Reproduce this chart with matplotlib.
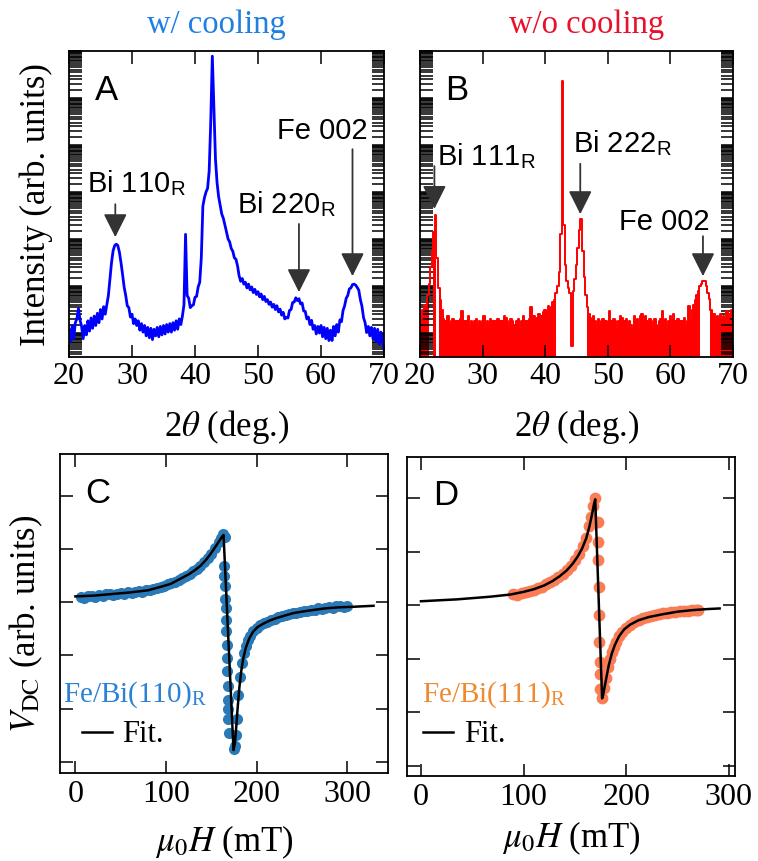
import numpy as np
import matplotlib
matplotlib.use("Agg")
import matplotlib.pyplot as plt
from matplotlib.ticker import LogLocator, NullFormatter, MultipleLocator

plt.rcParams["font.family"] = ["Liberation Serif", "DejaVu Serif"]
plt.rcParams["mathtext.fontset"] = "stix"

# ---- XRD, 2theta grid (deg.) ----
two_theta = np.arange(20.0, 70.01, 0.25)

# log10 intensity, w/ cooling (panel A), 4 samples per degree
log_int_a = [
    0.08, -0.18, 0.15, -0.12,  0.22, 0.30, 0.52, 0.28,  0.14, -0.12, 0.16, -0.04,
    0.26, 0.04, 0.32, 0.10,  0.36, 0.16, 0.42, 0.22,  0.50, 0.30, 0.56, 0.40,
    0.60, 0.80, 1.15, 1.50,  1.75, 1.86, 1.89, 1.86,  1.72, 1.50, 1.25, 0.98,
    0.80, 0.58, 0.54, 0.34,  0.40, 0.20, 0.30, 0.16,  0.26, 0.06, 0.20, 0.02,
    0.16, -0.06, 0.12, -0.10,  0.10, -0.14, 0.08, -0.06,  0.12, -0.08, 0.14, -0.04,
    0.16, -0.02, 0.18, 0.02,  0.20, 0.02, 0.22, 0.06,  0.26, 0.08, 0.30, 0.18,
    0.36, 0.60, 2.10, 0.80,  0.74, 0.54, 0.58, 0.60,  0.76, 0.78, 0.98, 1.08,
    1.60, 2.70, 2.88, 3.00,  3.08, 3.45, 4.50, 5.89,  4.80, 3.70, 3.20, 2.90,
    2.72, 2.53, 2.44, 2.30,  2.15, 2.00, 1.94, 1.80,  1.74, 1.60, 1.57, 1.43,
    1.22, 1.10, 1.16, 1.04,  1.08, 0.96, 1.04, 0.92,  0.98, 0.86, 0.93, 0.82,
    0.88, 0.77, 0.83, 0.71,  0.78, 0.67, 0.71, 0.61,  0.66, 0.55, 0.61, 0.50,
    0.58, 0.45, 0.51, 0.38,  0.44, 0.30, 0.33, 0.32,  0.48, 0.50, 0.65, 0.66,
    0.75, 0.69, 0.73, 0.62,  0.64, 0.47, 0.46, 0.30,  0.34, 0.18, 0.27, 0.08,
    0.16, -0.02, 0.14, 0.00,  0.16, -0.08, 0.12, -0.12,  0.10, -0.16, 0.06, -0.16,
    0.14, -0.06, 0.18, 0.02,  0.28, 0.24, 0.48, 0.58,  0.74, 0.80, 0.94, 0.96,
    1.03, 1.04, 1.02, 0.97,  0.91, 0.71, 0.57, 0.33,  0.22, 0.01, 0.14, -0.06,
    0.12, -0.12, 0.10, -0.18,  0.08, -0.24, 0.02, -0.16,  -0.35,
]

# log10 intensity, w/o cooling (panel B)
log_int_b = [
    0.40, 0.30, 0.48, 0.60,  0.55, 0.80, 1.05, 1.40,  1.75, 2.15, 2.52, 1.60,
    0.95, 0.70, 0.48, 0.30,  0.26, 0.09, 0.36, 0.18,  0.26, 0.30, 0.09, 0.26,
    0.18, 0.26, 0.30, 0.47,  0.26, 0.09, 0.26, 0.36,  0.09, 0.26, 0.18, 0.26,
    0.30, 0.09, 0.26, 0.18,  0.26, 0.36, 0.09, 0.26,  0.09, 0.30, 0.26, 0.09,
    0.26, 0.18, 0.30, 0.26,  0.09, 0.26, 0.36, 0.33,  0.26, 0.09, 0.30, 0.26,
    0.18, 0.09, 0.26, 0.30,  0.09, 0.26, 0.36, 0.26,  0.18, 0.26, 0.30, 0.55,
    0.26, 0.36, 0.33, 0.26,  0.40, 0.26, 0.36, 0.45,  0.50, 0.40, 0.58, 0.47,
    0.55, 0.65, 0.70, 0.85,  1.00, 1.30, 2.10, 5.36,  2.30, 1.45, 1.10, 0.95,
    0.85, -0.28, 0.90, 1.15,  1.45, 1.80, 2.20, 2.42,  1.75, 1.20, 0.80, 0.55,
    0.40, 0.33, 0.26, 0.36,  0.26, 0.09, 0.30, 0.18,  0.26, 0.30, 0.09, 0.26,
    0.18, 0.47, 0.26, 0.09,  0.30, 0.26, 0.09, 0.26,  0.36, 0.33, 0.09, 0.26,
    0.30, 0.09, 0.26, 0.18,  0.09, 0.36, 0.26, 0.30,  0.09, 0.36, 0.40, 0.26,
    0.36, 0.26, 0.09, 0.30,  0.26, 0.09, 0.30, 0.18,  0.09, 0.26, 0.30, 0.47,
    0.26, 0.30, 0.09, 0.26,  0.36, 0.18, 0.40, 0.26,  0.09, 0.30, 0.26, 0.09,
    0.26, 0.33, 0.09, 0.26,  0.58, 0.26, 0.50, 0.60,  0.70, 0.80, 0.90, 1.00,
    1.05, 1.11, 1.10, 1.00,  0.85, 0.72, 0.50, 0.37,  0.40, 0.26, 0.36, 0.26,
    0.40, 0.30, 0.36, 0.26,  0.47, 0.26, 0.40, 0.50,  0.45,
]
# 2theta ranges where the w/o-cooling trace never drops to zero counts
no_fill_b = [(21.6, 21.8), (22.7, 22.9), (41.9, 46.6), (65.0, 66.0)]

# ---- spin pumping V_DC (arb. units) vs mu0H (mT) ----
h_dots_c = [6, 10, 14, 18, 22, 26, 30, 34, 38, 42, 46, 50, 54, 58, 62, 66, 70, 74, 78, 82,
            86, 90, 94, 98, 102, 106, 110, 114, 118, 122, 126, 130, 134, 138, 142, 146,
            150, 154, 158, 161, 163, 165,
            164, 164.5, 165, 165.5, 166, 166.3, 166.6, 167, 167.3, 167.6, 168, 168.3,
            168.5, 168.8, 169,
            174.5, 176, 177, 178, 180, 182, 184, 186, 188, 190, 193, 196, 200, 204, 208,
            212, 216, 220, 224, 228, 232, 236, 240, 244, 248, 252, 256, 260, 264, 268,
            272, 276, 280, 284, 288, 292, 296, 300]
v_dots_c = [0.10, 0.08, 0.11, 0.12, 0.10, 0.13, 0.12, 0.15, 0.16, 0.13, 0.16, 0.17, 0.15,
            0.18, 0.17, 0.19, 0.20, 0.18, 0.22, 0.23, 0.24, 0.26, 0.28, 0.30, 0.33, 0.35,
            0.38, 0.42, 0.45, 0.49, 0.53, 0.58, 0.62, 0.68, 0.75, 0.83, 0.91, 1.01, 1.12,
            1.20, 1.27, 1.22,
            0.68, 0.49, 0.30, 0.05, -0.11, -0.33, -0.55, -0.80, -1.05, -1.30, -1.58,
            -1.83, -2.01, -2.20, -2.45,
            -2.76, -2.70, -2.50, -2.20, -1.75, -1.40, -1.15, -0.95, -0.82, -0.72, -0.63,
            -0.55, -0.48, -0.43, -0.40, -0.37, -0.33, -0.31, -0.29, -0.26, -0.25, -0.23,
            -0.21, -0.20, -0.18, -0.17, -0.16, -0.15, -0.14, -0.12, -0.13, -0.11, -0.10,
            -0.11, -0.08, -0.07, -0.09, -0.07]
h_fit_c = [0, 20, 40, 60, 80, 95, 105, 115, 125, 132, 138, 144, 149, 153, 157, 160, 162,
           163.5, 174.5, 176, 177.5, 179, 181, 183, 185, 188, 192, 196, 201, 207, 214,
           222, 230, 240, 250, 262, 275, 290, 305, 329]
v_fit_c = [0.106, 0.12, 0.15, 0.18, 0.22, 0.29, 0.34, 0.43, 0.52, 0.60, 0.68, 0.79, 0.90,
           1.00, 1.10, 1.18, 1.23, 1.26, -2.78, -2.65, -2.35, -2.00, -1.60, -1.30, -1.08,
           -0.86, -0.68, -0.56, -0.47, -0.41, -0.35, -0.30, -0.26, -0.21, -0.18, -0.15,
           -0.12, -0.10, -0.09, -0.07]

h_dots_d = [90, 94, 98, 102, 106, 110, 114, 118, 122, 126, 130, 134, 138, 142, 146, 150,
            154, 158, 161, 164, 166, 168, 170,
            172.3, 172.6, 172.9, 173.2, 173.5, 173.8, 174, 174.2, 174.5,
            176, 178, 180, 182, 184, 186, 188, 190, 193, 196, 200, 204, 208, 212, 216,
            220, 224, 228, 232, 236, 240, 244, 248, 252, 256, 260, 264, 268, 270]
v_dots_d = [0.21, 0.20, 0.23, 0.24, 0.27, 0.29, 0.32, 0.35, 0.39, 0.43, 0.48, 0.53, 0.59,
            0.66, 0.74, 0.84, 0.96, 1.10, 1.25, 1.48, 1.65, 1.85, 2.00,
            1.56, 1.18, 0.84, 0.34, -0.19, -0.68, -1.06, -1.28, -1.56,
            -1.74, -1.55, -1.35, -1.15, -1.00, -0.88, -0.78, -0.68, -0.58, -0.50, -0.42,
            -0.36, -0.31, -0.27, -0.24, -0.22, -0.20, -0.18, -0.17, -0.15, -0.14, -0.13,
            -0.12, -0.11, -0.10, -0.10, -0.09, -0.08, -0.08]
h_fit_d = [0, 35, 67.5, 87, 100, 110, 120, 128, 135, 142, 148, 153, 157, 161, 164, 166.5,
           168.5, 169.8, 176.5, 177.5, 179, 181, 183, 186, 189, 193, 198, 204, 212, 222,
           235, 250, 265, 280, 291]
v_fit_d = [0.075, 0.11, 0.16, 0.20, 0.25, 0.30, 0.37, 0.45, 0.54, 0.65, 0.78, 0.92, 1.06,
           1.25, 1.46, 1.68, 1.88, 1.98, -1.74, -1.68, -1.52, -1.32, -1.12, -0.90, -0.74,
           -0.58, -0.45, -0.36, -0.28, -0.22, -0.17, -0.12, -0.09, -0.07, -0.06]

W, H = 758, 862
fig = plt.figure(figsize=(W / 100, H / 100), dpi=100)


def box(l, t, r, b):
    return [l / W, 1 - b / H, (r - l) / W, (b - t) / H]


TICK = 23
LABEL = 25
SANS = "Liberation Sans"
ARROW = "#333333"


def style_axes(ax):
    for s in ax.spines.values():
        s.set_linewidth(1.3)
    ax.tick_params(which="both", direction="in", top=True, right=True, length=9,
                   width=1.1, labelsize=TICK, pad=3)
    ax.tick_params(axis="y", which="both", labelleft=False)


def xrd_axes(ax):
    ax.set_yscale("log")
    ax.set_xlim(20, 70)
    ax.set_ylim(10 ** -0.51, 10 ** 6.0)
    ax.xaxis.set_major_locator(MultipleLocator(10))
    ax.yaxis.set_major_locator(LogLocator(base=10, numticks=20))
    ax.yaxis.set_minor_locator(LogLocator(base=10, subs=np.arange(1.5, 10, 0.5), numticks=200))
    ax.yaxis.set_minor_formatter(NullFormatter())
    style_axes(ax)
    ax.set_xlabel(r"2$\theta$ (deg.)", fontsize=LABEL)
    ax.xaxis.set_label_coords(0.5, -0.163)
    ax.xaxis.label.set_va("top")


def arrow(ax, x, l_tail, l_tip):
    ax.annotate("", xy=(x, 10 ** l_tip), xytext=(x, 10 ** l_tail),
                arrowprops=dict(arrowstyle="-|>,head_length=0.9,head_width=0.45",
                                mutation_scale=16, color=ARROW, lw=1.3,
                                shrinkA=0, shrinkB=0))


def peak_label(ax, x, l, s):
    ax.text(x, 10 ** l, s, fontsize=21, family=SANS, va="baseline", ha="left")


# ---- A ----
ax_a = fig.add_axes(box(69, 52, 384, 358))
ya = 10 ** np.array(log_int_a)
ax_a.plot(two_theta, ya, color="#0000ff", lw=2.0)
xrd_axes(ax_a)
ax_a.set_ylabel("Intensity (arb. units)", fontsize=LABEL)
ax_a.yaxis.set_label_coords(-0.05, 0.5)
ax_a.text(0.083, 0.843, "A", transform=ax_a.transAxes, fontsize=25, family=SANS)
peak_label(ax_a, 22.86, 3.02, r"Bi 110$_\mathregular{R}$")
peak_label(ax_a, 46.67, 2.57, r"Bi 220$_\mathregular{R}$")
peak_label(ax_a, 53.0, 4.15, "Fe 002")
arrow(ax_a, 27.35, 2.74, 2.04)
arrow(ax_a, 56.5, 2.32, 0.87)
arrow(ax_a, 65.0, 3.91, 1.21)

# ---- B ----
ax_b = fig.add_axes(box(420, 52, 733, 358))
yb = 10 ** np.array(log_int_b)
fill_mask = np.ones(len(two_theta), dtype=bool)
for lo, hi in no_fill_b:
    fill_mask &= ~((two_theta >= lo) & (two_theta <= hi))
ax_b.fill_between(two_theta, 10 ** -0.6, yb, where=fill_mask, step="mid",
                  color="#ff0000", lw=0)
ax_b.plot(two_theta, yb, color="#ff0000", lw=1.4, drawstyle="steps-mid")
xrd_axes(ax_b)
ax_b.text(0.08, 0.842, "B", transform=ax_b.transAxes, fontsize=25, family=SANS)
peak_label(ax_b, 22.7, 3.60, r"Bi 111$_\mathregular{R}$")
peak_label(ax_b, 44.4, 3.87, r"Bi 222$_\mathregular{R}$")
peak_label(ax_b, 51.8, 2.21, "Fe 002")
arrow(ax_b, 22.3, 3.55, 2.64)
arrow(ax_b, 45.6, 3.60, 2.53)
arrow(ax_b, 65.2, 2.06, 1.21)

fig.text(216 / W, 1 - 33 / H, "w/ cooling", color="#2080e0", fontsize=23.5,
         ha="center", va="baseline")
fig.text(587 / W, 1 - 33 / H, "w/o cooling", color="#e8102a", fontsize=23.5,
         ha="center", va="baseline")


# ---- C, D ----
def fmr_axes(ax, xlim, ylim, label_y):
    ax.set_xlim(*xlim)
    ax.set_ylim(*ylim)
    ax.xaxis.set_major_locator(MultipleLocator(100))
    ax.yaxis.set_major_locator(MultipleLocator(1))
    style_axes(ax)
    ax.tick_params(axis="x", pad=4)
    ax.set_xlabel(r"$\mu_0H$ (mT)", fontsize=LABEL)
    ax.xaxis.set_label_coords(0.5, label_y)
    ax.xaxis.label.set_va("top")


ax_c = fig.add_axes(box(60, 455, 388, 774))
ax_c.plot(h_dots_c, v_dots_c, "o", ms=8, color="#2a7ab8", mec="none")
ax_c.plot(h_fit_c, v_fit_c, color="black", lw=1.8)
fmr_axes(ax_c, (-17, 345), (-3.21, 2.78), -0.154)
ax_c.set_ylabel(r"$V_{\mathrm{DC}}$ (arb. units)", fontsize=LABEL)
ax_c.yaxis.set_label_coords(-0.046, 0.47)
ax_c.text(0.076, 0.85, "C", transform=ax_c.transAxes, fontsize=25, family=SANS)
ax_c.text(0.009, 0.226, r"Fe/Bi(110)$_\mathregular{R}$", transform=ax_c.transAxes,
          fontsize=21, color="#2b82d4", va="baseline")
ax_c.plot([0.067, 0.159], [0.129, 0.129], transform=ax_c.transAxes, color="black", lw=1.8)
ax_c.text(0.189, 0.10, "Fit.", transform=ax_c.transAxes, fontsize=22, va="baseline")

ax_d = fig.add_axes(box(407, 458, 735, 777))
ax_d.plot(h_dots_d, v_dots_d, "o", ms=8.5, color="#fa7d55", mec="none")
ax_d.plot(h_fit_d, v_fit_d, color="black", lw=1.8)
fmr_axes(ax_d, (-13.6, 306), (-3.19, 2.77), -0.135)
ax_d.text(0.079, 0.853, "D", transform=ax_d.transAxes, fontsize=25, family=SANS)
ax_d.text(0.046, 0.235, r"Fe/Bi(111)$_\mathregular{R}$", transform=ax_d.transAxes,
          fontsize=21, color="#f08a30", va="baseline")
ax_d.plot([0.049, 0.140], [0.138, 0.138], transform=ax_d.transAxes, color="black", lw=1.8)
ax_d.text(0.174, 0.11, "Fit.", transform=ax_d.transAxes, fontsize=22, va="baseline")

fig.savefig("out.png", dpi=100)
